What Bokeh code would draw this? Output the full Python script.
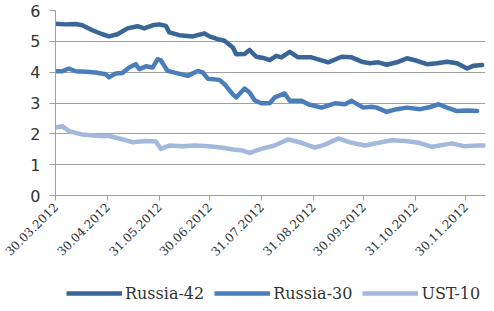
import math
import pandas as pd
from bokeh.plotting import figure
from bokeh.layouts import column
from bokeh.models import (FixedTicker, DatetimeTickFormatter, Legend, LegendItem,
                          Range1d, SingleIntervalTicker)
from bokeh.embed import file_html
from bokeh.resources import INLINE

r42_dates = ["2012-03-30", "2012-04-05", "2012-04-11", "2012-04-15", "2012-04-21", "2012-04-27",
             "2012-05-01", "2012-05-06", "2012-05-12", "2012-05-18", "2012-05-22", "2012-05-27",
             "2012-05-31", "2012-06-04", "2012-06-06", "2012-06-12", "2012-06-20", "2012-06-27",
             "2012-06-30", "2012-07-05", "2012-07-09", "2012-07-14", "2012-07-16", "2012-07-21",
             "2012-07-24", "2012-07-28", "2012-08-02", "2012-08-05", "2012-08-09", "2012-08-12",
             "2012-08-17", "2012-08-22", "2012-08-30", "2012-09-09", "2012-09-17", "2012-09-23",
             "2012-09-29", "2012-10-04", "2012-10-09", "2012-10-14", "2012-10-20", "2012-10-26",
             "2012-11-01", "2012-11-07", "2012-11-13", "2012-11-19", "2012-11-25", "2012-12-01",
             "2012-12-05", "2012-12-10"]
r42_vals = [5.57, 5.55, 5.56, 5.52, 5.36, 5.23,
            5.16, 5.23, 5.42, 5.49, 5.42, 5.52,
            5.55, 5.50, 5.29, 5.20, 5.16, 5.26,
            5.16, 5.07, 5.02, 4.80, 4.58, 4.59,
            4.72, 4.50, 4.45, 4.39, 4.53, 4.48,
            4.66, 4.48, 4.48, 4.32, 4.50, 4.48,
            4.34, 4.29, 4.32, 4.24, 4.32, 4.45,
            4.37, 4.26, 4.29, 4.34, 4.29, 4.12,
            4.21, 4.23]

r30_dates = ["2012-03-30", "2012-04-03", "2012-04-07", "2012-04-11", "2012-04-17", "2012-04-23",
             "2012-04-29", "2012-05-01", "2012-05-05", "2012-05-09", "2012-05-13", "2012-05-17",
             "2012-05-19", "2012-05-23", "2012-05-27", "2012-05-30", "2012-06-01", "2012-06-05",
             "2012-06-11", "2012-06-17", "2012-06-23", "2012-06-26", "2012-06-29", "2012-07-06",
             "2012-07-09", "2012-07-14", "2012-07-16", "2012-07-21", "2012-07-24", "2012-07-27",
             "2012-07-31", "2012-08-05", "2012-08-08", "2012-08-14", "2012-08-17", "2012-08-24",
             "2012-08-28", "2012-09-05", "2012-09-13", "2012-09-19", "2012-09-23", "2012-09-30",
             "2012-10-05", "2012-10-08", "2012-10-14", "2012-10-20", "2012-10-26", "2012-11-03",
             "2012-11-09", "2012-11-14", "2012-11-19", "2012-11-25", "2012-12-01", "2012-12-07"]
r30_vals = [4.03, 4.03, 4.12, 4.03, 4.01, 3.99,
            3.93, 3.83, 3.96, 3.97, 4.15, 4.26,
            4.10, 4.19, 4.15, 4.42, 4.38, 4.04,
            3.96, 3.88, 4.04, 3.99, 3.79, 3.75,
            3.61, 3.28, 3.18, 3.47, 3.34, 3.09,
            2.99, 2.99, 3.18, 3.31, 3.07, 3.07,
            2.96, 2.85, 2.99, 2.96, 3.07, 2.85,
            2.88, 2.85, 2.71, 2.80, 2.85, 2.80,
            2.87, 2.96, 2.85, 2.74, 2.76, 2.74]

ust_dates = ["2012-03-30", "2012-04-03", "2012-04-07", "2012-04-15", "2012-04-25", "2012-05-01",
             "2012-05-07", "2012-05-15", "2012-05-23", "2012-05-29", "2012-06-01", "2012-06-06",
             "2012-06-14", "2012-06-21", "2012-06-30", "2012-07-08", "2012-07-14", "2012-07-19",
             "2012-07-24", "2012-07-31", "2012-08-08", "2012-08-16", "2012-08-24", "2012-09-01",
             "2012-09-07", "2012-09-15", "2012-09-23", "2012-10-01", "2012-10-09", "2012-10-17",
             "2012-10-25", "2012-11-02", "2012-11-10", "2012-11-22", "2012-11-29", "2012-12-08",
             "2012-12-11"]
ust_vals = [2.20, 2.25, 2.09, 1.98, 1.93, 1.93,
            1.85, 1.73, 1.77, 1.75, 1.51, 1.62,
            1.60, 1.62, 1.60, 1.55, 1.49, 1.47,
            1.38, 1.51, 1.62, 1.82, 1.71, 1.55,
            1.65, 1.85, 1.71, 1.62, 1.71, 1.79,
            1.77, 1.71, 1.58, 1.69, 1.60, 1.62,
            1.62]

tick_dates = ["2012-03-30", "2012-04-30", "2012-05-31", "2012-06-30", "2012-07-31",
              "2012-08-31", "2012-09-30", "2012-10-31", "2012-11-30"]

series_names = ["Russia-42", "Russia-30", "UST-10"]
series_colors = ["#3A6597", "#4A7EBB", "#A2B9DC"]
all_dates = [r42_dates, r30_dates, ust_dates]
all_vals = [r42_vals, r30_vals, ust_vals]

p = figure(width=486, height=268, output_backend="svg", toolbar_location=None,
           x_axis_type="datetime",
           x_range=Range1d(pd.Timestamp("2012-03-30"), pd.Timestamp("2012-12-12")),
           y_range=Range1d(0, 6),
           min_border_left=55, min_border_right=1, min_border_top=10,
           min_border_bottom=73)
p.outline_line_color = None
p.background_fill_color = "white"

for d, v, c in zip(all_dates, all_vals, series_colors):
    p.line(pd.to_datetime(d), v, line_color=c, line_width=4.5, line_join="round", line_cap="round")

p.xaxis.ticker = FixedTicker(ticks=[pd.Timestamp(t).value / 1e6 for t in tick_dates])
fmt = "%d.%m.%Y"
p.xaxis.formatter = DatetimeTickFormatter(days=fmt, months=fmt, years=fmt, hours=fmt,
                                          minutes=fmt, seconds=fmt, milliseconds=fmt,
                                          microseconds=fmt, minsec=fmt, hourmin=fmt)
p.xaxis.major_label_orientation = math.pi / 4
p.xaxis.major_label_text_font = "DejaVu Serif"
p.xaxis.major_label_text_font_size = "12px"
p.xaxis.major_label_text_color = "#333333"
p.xaxis.major_label_standoff = 4
p.xaxis.axis_line_color = "#a0a0a0"
p.xaxis.major_tick_line_color = "#a0a0a0"
p.xaxis.major_tick_out = 5
p.xaxis.major_tick_in = 0
p.xaxis.minor_tick_line_color = None
p.xgrid.grid_line_color = None

p.yaxis.ticker = SingleIntervalTicker(interval=1)
p.yaxis.major_label_text_font = "DejaVu Sans"
p.yaxis.major_label_text_font_size = "16px"
p.yaxis.major_label_text_color = "#333333"
p.yaxis.major_label_standoff = 9
p.yaxis.axis_line_color = "#a0a0a0"
p.yaxis.major_tick_line_color = "#a0a0a0"
p.yaxis.major_tick_out = 6
p.yaxis.major_tick_in = 0
p.yaxis.minor_tick_line_color = None
p.ygrid.grid_line_color = "#a0a0a0"

# legend strip (same series, drawn off-range so only the legend shows)
leg = figure(width=486, height=35, output_backend="svg", toolbar_location=None,
             x_range=Range1d(0, 1), y_range=Range1d(100, 101),
             x_axis_location=None, y_axis_location=None,
             min_border_left=0, min_border_right=0, min_border_top=0, min_border_bottom=0)
leg.grid.visible = False
leg.outline_line_color = None
items = []
for n, d, v, c in zip(series_names, all_dates, all_vals, series_colors):
    r = leg.line(pd.to_datetime(d), v, line_color=c, line_width=4.5)
    items.append(LegendItem(label=n, renderers=[r]))
legend = Legend(items=items, orientation="horizontal", location=(11, 0))
legend.glyph_width = 56
legend.label_text_font = "DejaVu Serif"
legend.label_text_font_size = "16px"
legend.label_text_color = "#333333"
legend.border_line_color = None
legend.background_fill_alpha = 0
legend.spacing = 10
legend.label_standoff = 3
legend.padding = 0
legend.margin = 0
leg.add_layout(legend, "center")

layout = column(p, leg, spacing=0)
open("out.html", "w").write(file_html(layout, INLINE))
